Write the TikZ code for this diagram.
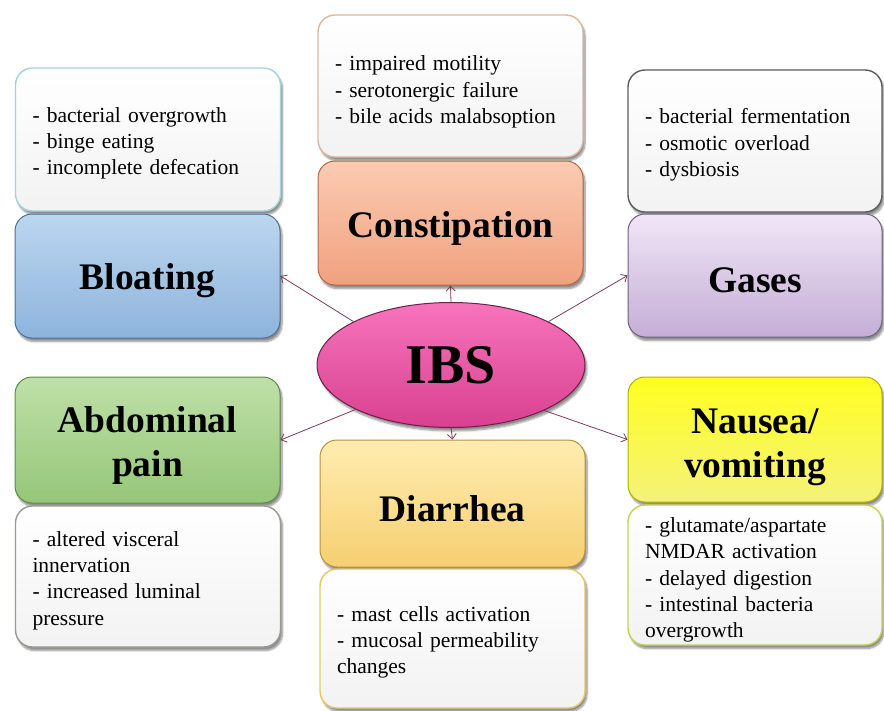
\documentclass[tikz,border=0pt]{standalone}
\usepackage{fontspec}
\setmainfont{Liberation Serif}
\usetikzlibrary{arrows.meta,shadows.blur,shapes.geometric}
\definecolor{bltop}{HTML}{BCD6EF}
\definecolor{blbot}{HTML}{8EB4DC}
\definecolor{bldraw}{HTML}{4F6F95}
\definecolor{bltext}{HTML}{9FD3E0}
\definecolor{cotop}{HTML}{FBCBB2}
\definecolor{cobot}{HTML}{F0A17F}
\definecolor{codraw}{HTML}{B06848}
\definecolor{cotext}{HTML}{DDB79E}
\definecolor{gatop}{HTML}{F1E6F6}
\definecolor{gabot}{HTML}{C4AED6}
\definecolor{gadraw}{HTML}{6E607E}
\definecolor{gatext}{HTML}{5C5C5C}
\definecolor{abtop}{HTML}{BFE0A8}
\definecolor{abbot}{HTML}{95C679}
\definecolor{abdraw}{HTML}{5E8A46}
\definecolor{abtext}{HTML}{9A9A90}
\definecolor{ditop}{HTML}{FFEDB0}
\definecolor{dibot}{HTML}{F6CF72}
\definecolor{didraw}{HTML}{B8923A}
\definecolor{ditext}{HTML}{E6C766}
\definecolor{natop}{HTML}{FFFF20}
\definecolor{nabot}{HTML}{F4F27A}
\definecolor{nadraw}{HTML}{B0B000}
\definecolor{natext}{HTML}{C6D24E}
\definecolor{ibtop}{HTML}{F774BC}
\definecolor{ibbot}{HTML}{D8418F}
\definecolor{ibdraw}{HTML}{6E1E48}
\definecolor{arrcol}{HTML}{7B3B5B}
\begin{document}
\begin{tikzpicture}[x=1pt,y=-1pt,
  base/.style={rectangle, rounded corners=17pt, inner sep=0pt,
    blur shadow={shadow xshift=2pt, shadow yshift=-3.5pt, shadow opacity=45, shadow blur steps=7}},
  cbox/.style={base, line width=1pt},
  ctext/.style={font=\fontsize{37.5}{44}\selectfont\bfseries, align=center, inner sep=0pt, yshift=-5pt},
  tbox/.style={base, top color=white, bottom color=gray!10, line width=1.4pt},
  btext/.style={font=\fontsize{21.5}{26.3}\selectfont, align=left, inner sep=0pt, yshift=-4pt},
  wide/.style={minimum width=265pt},
  narrow/.style={minimum width=254pt},
  wtext/.style={btext, text width=231pt},
  ntext/.style={btext, text width=220pt},
  arr/.style={draw=arrcol, line width=0.8pt, -{Straight Barb[length=5pt,width=9pt]}}
]
\useasboundingbox (0,0) rectangle (884,710);

% Bloating
\node[tbox, wide, draw=bltext, minimum height=143pt,
  label={[wtext]center:{- bacterial overgrowth\\- binge eating\\- incomplete defecation}}] (bloatt) at (148,139.5) {};
\node[cbox, wide, minimum height=124pt, top color=bltop, bottom color=blbot, draw=bldraw,
  label={[ctext]center:Bloating}] (bloat) at (147.5,276) {};

% Constipation
\node[tbox, wide, draw=cotext, minimum height=142pt,
  label={[wtext, yshift=-2pt]center:{- impaired motility\\- serotonergic failure\\- bile acids malabsoption}}] (constt) at (450.5,86) {};
\node[cbox, wide, minimum height=124pt, top color=cotop, bottom color=cobot, draw=codraw,
  label={[ctext]center:Constipation}] (const) at (450.5,223) {};

% Gases
\node[tbox, narrow, draw=gatext, minimum height=142pt,
  label={[ntext]center:{- bacterial fermentation\\- osmotic overload\\- dysbiosis}}] (gasest) at (755,141) {};
\node[cbox, narrow, minimum height=123pt, top color=gatop, bottom color=gabot, draw=gadraw,
  label={[ctext]center:Gases}] (gases) at (755,275.5) {};

% Abdominal pain
\node[cbox, wide, minimum height=126pt, top color=abtop, bottom color=abbot, draw=abdraw,
  label={[ctext]center:{Abdominal\\pain}}] (abd) at (147.5,440) {};
\node[tbox, wide, draw=abtext, minimum height=141pt,
  label={[wtext]center:{- altered visceral\\innervation\\- increased luminal\\pressure}}] (abdt) at (148,576.5) {};

% Diarrhea
\node[cbox, wide, minimum height=127pt, top color=ditop, bottom color=dibot, draw=didraw,
  label={[ctext]center:Diarrhea}] (diar) at (452.5,503.5) {};
\node[tbox, wide, draw=ditext, minimum height=139pt,
  label={[wtext]center:{- mast cells activation\\- mucosal permeability\\changes}}] (diart) at (452.5,638.5) {};

% Nausea
\node[cbox, narrow, minimum height=125pt, top color=natop, bottom color=nabot, draw=nadraw,
  label={[ctext, yshift=-3pt]center:{Nausea/\\vomiting}}] (naus) at (755,439.5) {};
\node[tbox, narrow, draw=natext, minimum height=140pt,
  label={[ntext, yshift=-1pt]center:{- glutamate/aspartate\\NMDAR activation\\- delayed digestion\\- intestinal bacteria\\overgrowth}}] (naust) at (755,575) {};

% IBS
\node[ellipse, minimum width=268pt, minimum height=125pt, inner sep=0pt, top color=ibtop, bottom color=ibbot, draw=ibdraw, line width=1pt,
  blur shadow={shadow xshift=2pt, shadow yshift=-3.5pt, shadow opacity=45, shadow blur steps=7},
  font=\fontsize{56}{60}\selectfont\bfseries] (ibs) at (451,365) {IBS};

% arrows
\draw[arr] (ibs.156) -- (bloat.east);
\draw[arr] (ibs.north) -- (const.south);
\draw[arr] (ibs.24) -- (gases.west);
\draw[arr] (ibs.205) -- (abd.east);
\draw[arr] (ibs.south) -- (diar.north);
\draw[arr] (ibs.334) -- (naus.west);
\end{tikzpicture}
\end{document}
